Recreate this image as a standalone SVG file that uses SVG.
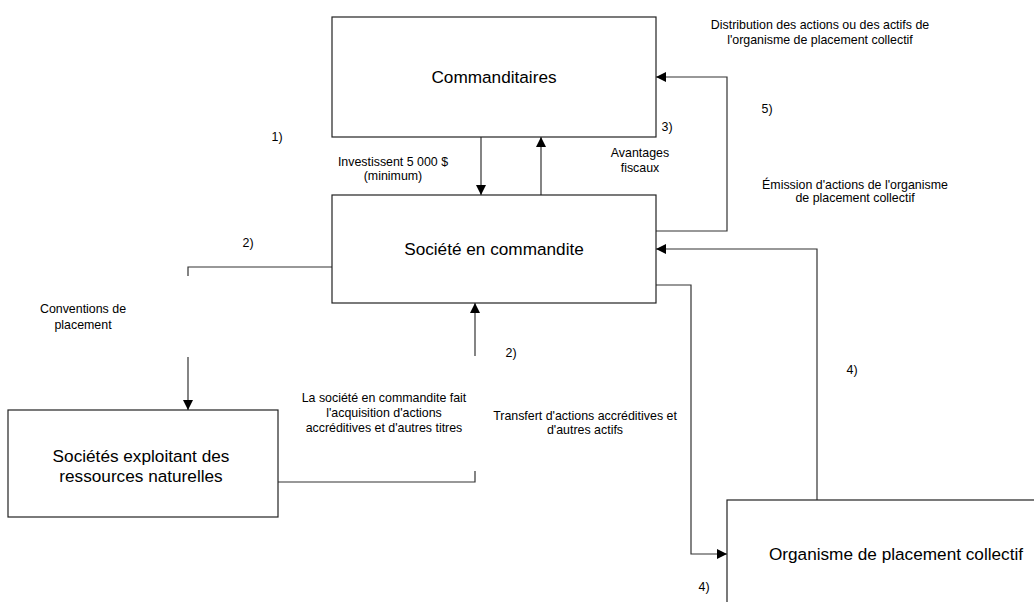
<svg xmlns="http://www.w3.org/2000/svg" width="1034" height="602" viewBox="0 0 1034 602">
<style>
.box{fill:#fff;stroke:#222;stroke-width:1.2}
.nt{font-family:"Liberation Sans",Arial,sans-serif;font-size:17.2px;fill:#000;text-anchor:middle}
.lb{font-family:"Liberation Sans",Arial,sans-serif;font-size:12.4px;fill:#000;text-anchor:middle}
.ln{fill:none;stroke:#333;stroke-width:1.2}
</style>
<defs>
<marker id="ah" viewBox="0 0 10 10" refX="10" refY="5" markerWidth="10" markerHeight="10" markerUnits="userSpaceOnUse" orient="auto">
<path d="M0,0 L10,5 L0,10 z" fill="#000"/>
</marker>
</defs>
<rect width="1034" height="602" fill="#fff"/>
<g id="connectors">
<path class="ln" d="M481,137 V195" marker-end="url(#ah)"/>
<path class="ln" d="M541,197 V137" marker-end="url(#ah)"/>
<path class="ln" d="M656,231 H727 V77 H656" marker-end="url(#ah)"/>
<path class="ln" d="M817,500 V249 H656" marker-end="url(#ah)"/>
<path class="ln" d="M656,285 H691 V554 H727" marker-end="url(#ah)"/>
<path class="ln" d="M332,267 H188 V276"/>
<path class="ln" d="M188,357 V410" marker-end="url(#ah)"/>
<path class="ln" d="M278,482 H475 V471"/>
<path class="ln" d="M475,356 V303" marker-end="url(#ah)"/>
</g>
<g id="commanditaires">
<rect class="box" x="332" y="17" width="324" height="120"/>
<text class="nt" x="494" y="83">Commanditaires</text>
</g>
<g id="societe-commandite">
<rect class="box" x="332" y="195" width="324" height="108"/>
<text class="nt" x="494" y="255">Société en commandite</text>
</g>
<g id="societes-ressources">
<rect class="box" x="8" y="410" width="270" height="107"/>
<text class="nt" x="141" y="462">Sociétés exploitant des</text>
<text class="nt" x="141" y="482">ressources naturelles</text>
</g>
<g id="organisme">
<rect class="box" x="727" y="500" width="320" height="120"/>
<text class="nt" x="896" y="560">Organisme de placement collectif</text>
</g>
<g id="labels">
<text class="lb" x="277" y="141">1)</text>
<text class="lb" x="393" y="166">Investissent 5 000 $</text>
<text class="lb" x="393" y="180">(minimum)</text>
<text class="lb" x="667" y="131">3)</text>
<text class="lb" x="640" y="157">Avantages</text>
<text class="lb" x="640" y="172">fiscaux</text>
<text class="lb" x="820" y="29">Distribution des actions ou des actifs de</text>
<text class="lb" x="820" y="43.5">l'organisme de placement collectif</text>
<text class="lb" x="767" y="113">5)</text>
<text class="lb" x="855" y="188.5">Émission d'actions de l'organisme</text>
<text class="lb" x="855" y="202">de placement collectif</text>
<text class="lb" x="852" y="374">4)</text>
<text class="lb" x="704" y="591">4)</text>
<text class="lb" x="585" y="420">Transfert d'actions accréditives et</text>
<text class="lb" x="585" y="434">d'autres actifs</text>
<text class="lb" x="248" y="247">2)</text>
<text class="lb" x="83" y="313">Conventions de</text>
<text class="lb" x="83" y="329">placement</text>
<text class="lb" x="511" y="357">2)</text>
<text class="lb" x="384" y="402">La société en commandite fait</text>
<text class="lb" x="384" y="417">l'acquisition d'actions</text>
<text class="lb" x="384" y="432">accréditives et d'autres titres</text>
</g>
</svg>
